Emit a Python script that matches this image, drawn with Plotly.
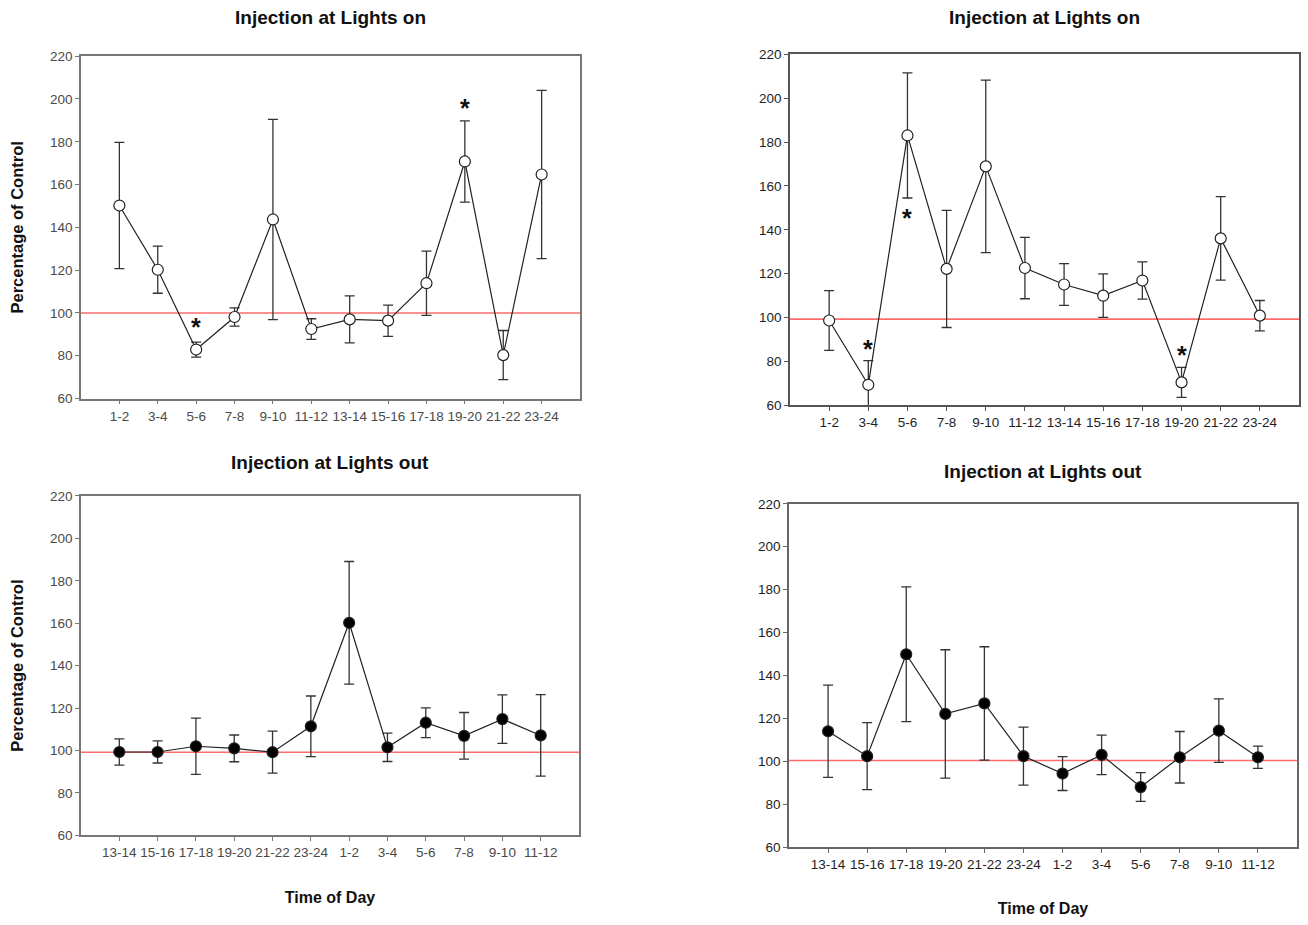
import plotly.graph_objects as go

W, H = 1308, 925

# ---- data ----
labels_on = ["1-2", "3-4", "5-6", "7-8", "9-10", "11-12", "13-14", "15-16", "17-18", "19-20", "21-22", "23-24"]
labels_out = ["13-14", "15-16", "17-18", "19-20", "21-22", "23-24", "1-2", "3-4", "5-6", "7-8", "9-10", "11-12"]

p1_vals = [150.2, 120.2, 82.9, 98.1, 143.7, 92.5, 97.0, 96.4, 113.9, 170.8, 80.3, 164.7]
p1_err = [29.5, 11.0, 3.5, 4.3, 46.8, 4.8, 11.0, 7.3, 15.0, 19.0, 11.5, 39.3]
p1_stars = [(2, 95.3), (9, 197.5)]
p1_ref = 100.0

p2_vals = [98.7, 69.4, 183.0, 122.2, 168.9, 122.6, 115.1, 110.0, 116.9, 70.5, 136.1, 100.9]
p2_err = [13.6, 11.0, 28.5, 26.7, 39.3, 14.0, 9.5, 9.9, 8.5, 6.8, 19.0, 6.9]
p2_stars = [(1, 87.4), (2, 147.0), (9, 84.9)]
p2_ref = 99.3

p3_vals = [99.3, 99.3, 102.0, 101.0, 99.2, 111.4, 160.2, 101.5, 113.1, 106.9, 114.8, 107.1]
p3_err = [6.2, 5.2, 13.3, 6.3, 9.9, 14.3, 28.9, 6.7, 7.0, 11.0, 11.4, 19.2]
p3_ref = 99.2

p4_vals = [114.0, 102.4, 149.9, 122.1, 127.0, 102.4, 94.3, 103.0, 88.0, 101.9, 114.3, 101.9]
p4_err = [21.5, 15.6, 31.4, 29.9, 26.4, 13.5, 7.9, 9.2, 6.7, 12.0, 14.8, 5.2]
p4_ref = 100.4

y_ticks = [60, 80, 100, 120, 140, 160, 180, 200, 220]

title_on = "Injection at Lights on"
title_out = "Injection at Lights out"
y_title = "Percentage of Control"
x_title = "Time of Day"

# ---- layout (pixel boxes: left, right, top, bottom) ----
boxes = [
    (81, 580, 50, 398),
    (790, 1299, 48, 405),
    (81, 579, 497, 842),
    (789, 1297, 505, 854),
]
title_shift = [26, 24, 21, 20]
tick_colors = ["#4a4a4a", "#1e1e1e", "#4a4a4a", "#1e1e1e"]
frame_colors = ["#777777", "#555555", "#777777", "#666666"]

panels = [
    (labels_on, p1_vals, p1_err, p1_stars, p1_ref, "white", title_on, True, False),
    (labels_on, p2_vals, p2_err, p2_stars, p2_ref, "white", title_on, False, False),
    (labels_out, p3_vals, p3_err, [], p3_ref, "black", title_out, True, True),
    (labels_out, p4_vals, p4_err, [], p4_ref, "black", title_out, False, True),
]

FONT = "Liberation Sans, Arial, sans-serif"

fig = go.Figure()
layout = dict(
    width=W, height=H,
    margin=dict(l=0, r=0, t=0, b=0),
    paper_bgcolor="white", plot_bgcolor="white",
    showlegend=False,
    font=dict(family=FONT, color="#333333"),
)
annotations = []
shapes = []

for i, (box, pan) in enumerate(zip(boxes, panels)):
    labels, vals, errs, stars, ref, fill, title, show_ytitle, show_xtitle = pan
    l, r, t, b = box
    xd = [l / W, r / W]
    yd = [1 - b / H, 1 - t / H]
    n = i + 1
    xa = "x" if n == 1 else f"x{n}"
    ya = "y" if n == 1 else f"y{n}"
    xs = list(range(len(labels)))
    fig.add_trace(go.Scatter(
        x=xs, y=vals, xaxis=xa, yaxis=ya,
        mode="lines+markers",
        line=dict(color="#222222", width=1.2),
        marker=dict(size=11, color=fill, line=dict(color="#222222", width=1.2)),
        error_y=dict(type="data", array=errs, visible=True, color="#333333",
                     thickness=1.3, width=5),
        cliponaxis=True,
    ))
    axis_common = dict(
        showline=True, linecolor=frame_colors[i], linewidth=1.6, mirror=True,
        showgrid=False, zeroline=False,
        ticks="outside", ticklen=4, tickcolor=frame_colors[i], tickwidth=1.3,
        tickfont=dict(family=FONT, size=13.5, color=tick_colors[i]),
    )
    layout["xaxis" if n == 1 else f"xaxis{n}"] = dict(
        axis_common, domain=xd, anchor=ya, range=[-1, len(labels)],
        tickvals=xs, ticktext=labels,
        title=dict(text=f"<b>{x_title}</b>" if show_xtitle else "",
                   font=dict(family=FONT, size=16, color="#111111"), standoff=32),
    )
    layout["yaxis" if n == 1 else f"yaxis{n}"] = dict(
        axis_common, domain=yd, anchor=xa, range=[60, 220],
        tickvals=y_ticks,
        title=dict(text=f"<b>{y_title}</b>" if show_ytitle else "",
                   font=dict(family=FONT, size=16.5, color="#111111"), standoff=22),
    )
    shapes.append(dict(type="line", xref=f"{xa} domain", yref=ya,
                       x0=0, x1=1, y0=ref, y1=ref,
                       line=dict(color="#ff6b6b", width=1.6), layer="below"))
    annotations.append(dict(
        text=f"<b>{title}</b>", x=(xd[0] + xd[1]) / 2, y=yd[1], xref="paper", yref="paper",
        xanchor="center", yanchor="bottom", yshift=title_shift[i],
        showarrow=False, font=dict(family=FONT, size=19, color="#111111"),
    ))
    for (sx, sy) in stars:
        annotations.append(dict(
            text="<b>*</b>", x=sx, y=sy, xref=xa, yref=ya, showarrow=False,
            yshift=-4, font=dict(family=FONT, size=25, color="#111111"),
        ))

layout["annotations"] = annotations
layout["shapes"] = shapes
fig.update_layout(**layout)
fig.write_html("out.html")
